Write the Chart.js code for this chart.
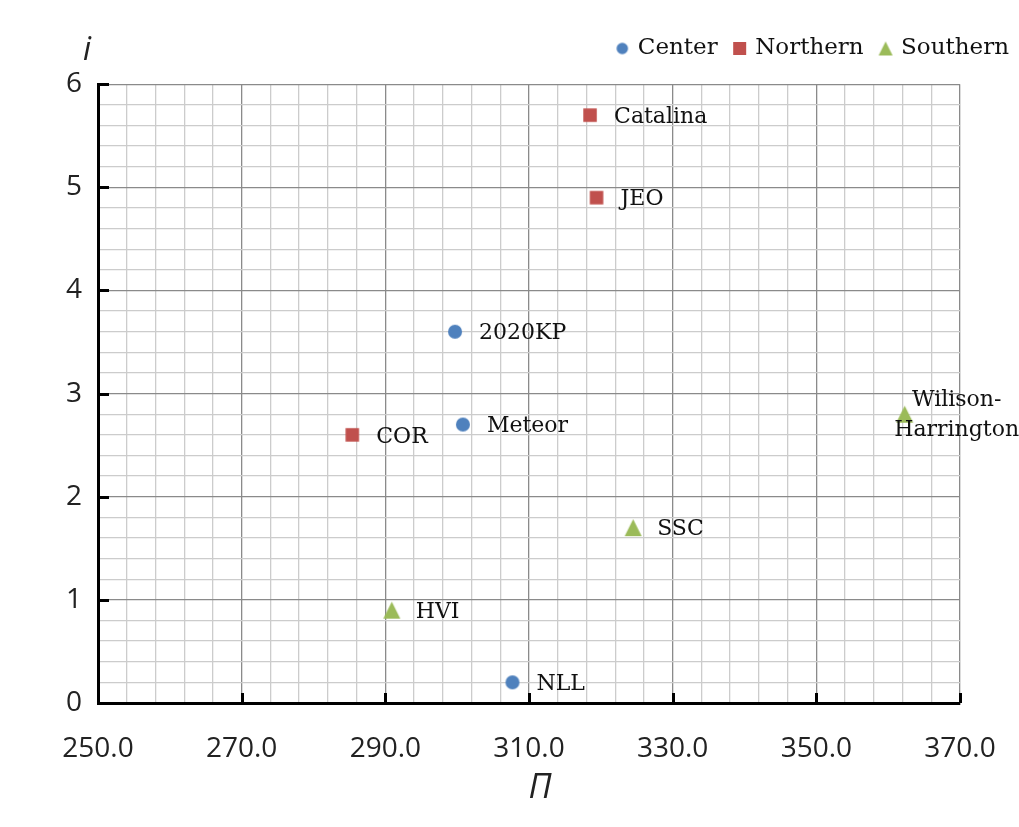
<!DOCTYPE html>
<html>
<head>
<meta charset="utf-8">
<script src="https://cdn.jsdelivr.net/npm/chart.js@4.4.1/dist/chart.umd.min.js"></script>
<style>
  html, body { margin: 0; padding: 0; background: #fff; }
  #wrap { width: 1019px; height: 827px; position: relative; }
</style>
</head>
<body>
<div id="wrap"><canvas id="c" width="1019" height="827"></canvas></div>
<script>
// ---- data ----
const seriesNames = ['Center', 'Northern', 'Southern'];
const centerNames = ['2020KP', 'Meteor', 'NLL'];
const centerX = [299.7, 300.8, 307.7];
const centerY = [3.6, 2.7, 0.2];
const northernNames = ['Catalina', 'JEO', 'COR'];
const northernX = [318.5, 319.4, 285.4];
const northernY = [5.7, 4.9, 2.6];
const southernNames = [['Wilison-', 'Harrington'], 'SSC', 'HVI'];
const southernX = [362.3, 324.5, 290.9];
const southernY = [2.8, 1.7, 0.9];
const xTickLabels = ['250.0', '270.0', '290.0', '310.0', '330.0', '350.0', '370.0'];
const yTickLabels = ['0', '1', '2', '3', '4', '5', '6'];
const xAxisTitle = 'Π';
const yAxisTitle = 'i';

// ---- style ----
const SERIF = '"DejaVu Serif", serif';
const SANS = '"Open Sans", "Noto Sans", sans-serif';
const colors = ['#4F81BD', '#C0504D', '#9BBB59'];
const styles = ['circle', 'rect', 'triangle'];

const X_MIN = 250, X_MAX = 370, X_MINOR = 4, X_MAJOR = 20;
const Y_MIN = 0, Y_MAX = 6, Y_MINOR = 0.2;

// marker images, centred on their bounding box
function makeMarker(style, color, size) {
  const c = document.createElement('canvas');
  const s = Math.ceil(size) + 2;
  c.width = s; c.height = s;
  const g = c.getContext('2d');
  const m = s / 2;
  g.fillStyle = color;
  g.beginPath();
  if (style === 'circle') { g.arc(m, m, size / 2, 0, Math.PI * 2); }
  else if (style === 'rect') { g.rect(m - size / 2, m - size / 2, size, size); }
  else { g.moveTo(m, m - size / 2); g.lineTo(m + size / 2, m + size / 2); g.lineTo(m - size / 2, m + size / 2); g.closePath(); }
  g.fill();
  return c;
}
const chartMarkerSizes = [14, 13.5, 17];
const legendMarkerSizes = [11.5, 13, 14];
const chartMarkers = styles.map((s, i) => makeMarker(s, colors[i], chartMarkerSizes[i]));
const legendMarkers = styles.map((s, i) => makeMarker(s, colors[i], legendMarkerSizes[i]));

function pts(xs, ys) { return xs.map((x, i) => ({ x: x, y: ys[i] })); }
const allNames = [centerNames, northernNames, southernNames];
const datasets = [pts(centerX, centerY), pts(northernX, northernY), pts(southernX, southernY)].map((d, i) => ({
  label: seriesNames[i],
  data: d,
  pointStyle: chartMarkers[i],
  pointRadius: 8,
  pointHoverRadius: 8,
  backgroundColor: colors[i],
  borderColor: colors[i],
  borderWidth: 0,
  showLine: false
}));

function isMajorX(v) { return Math.abs(((v - X_MIN) / X_MAJOR) - Math.round((v - X_MIN) / X_MAJOR)) < 1e-6; }
function isMajorY(v) { return Math.abs(v - Math.round(v)) < 1e-6; }

const LEFT = 98, BOTTOM = 703, RIGHT_PAD = 59;

const labelPlugin = {
  id: 'pointLabels',
  afterDatasetsDraw(chart) {
    const ctx = chart.ctx;
    ctx.save();
    ctx.fillStyle = '#111';
    ctx.font = '22px ' + SERIF;
    chart.data.datasets.forEach((ds, di) => {
      const meta = chart.getDatasetMeta(di);
      meta.data.forEach((el, i) => {
        const name = allNames[di][i];
        if (Array.isArray(name)) {
          ctx.textAlign = 'center';
          ctx.textBaseline = 'middle';
          ctx.fillText(name[0], el.x + 52, el.y - 14);
          ctx.fillText(name[1], el.x + 52, el.y + 16);
        } else {
          ctx.textAlign = 'left';
          ctx.textBaseline = 'middle';
          ctx.fillText(name, el.x + 24, el.y + 2);
        }
      });
    });
    ctx.restore();
  }
};

const axisPlugin = {
  id: 'axisExtras',
  afterDraw(chart) {
    const ctx = chart.ctx;
    const xs = chart.scales.x, ys = chart.scales.y;
    const a = chart.chartArea;
    ctx.save();
    ctx.strokeStyle = '#000';
    ctx.lineWidth = 3;
    ctx.beginPath();
    xs.ticks.forEach(t => {
      if (isMajorX(t.value) && t.value > X_MIN) {
        const p = Math.round(xs.getPixelForValue(t.value)) + 0.5;
        ctx.moveTo(p, a.bottom); ctx.lineTo(p, a.bottom - 10);
      }
    });
    ys.ticks.forEach(t => {
      if (isMajorY(t.value) && t.value > Y_MIN) {
        const p = Math.round(ys.getPixelForValue(t.value)) + 0.5;
        ctx.moveTo(a.left, p); ctx.lineTo(a.left + 11, p);
      }
    });
    ctx.stroke();
    // axis titles
    ctx.fillStyle = '#222';
    ctx.textAlign = 'center';
    ctx.textBaseline = 'middle';
    ctx.font = 'italic 32px ' + SANS;
    ctx.fillText(yAxisTitle, 87, 51);
    ctx.font = 'italic 34px ' + SANS;
    ctx.fillText(xAxisTitle, (a.left + a.right) / 2 + 11, 788);
    ctx.restore();
  }
};

new Chart(document.getElementById('c'), {
  type: 'scatter',
  data: { datasets: datasets },
  options: {
    responsive: false,
    animation: false,
    layout: { padding: { left: 0, right: -8, top: 19, bottom: 0 } },
    plugins: {
      tooltip: { enabled: false },
      subtitle: {
        display: true,
        text: '',
        position: 'top',
        weight: 500,
        font: { size: 1 },
        padding: { top: 0, bottom: 13 }
      },
      legend: {
        display: true,
        position: 'top',
        align: 'end',
        labels: {
          usePointStyle: true,
          boxWidth: 8,
          boxHeight: 9,
          padding: 18,
          color: '#111',
          font: { family: SERIF, size: 23 },
          generateLabels(chart) {
            const items = Chart.defaults.plugins.legend.labels.generateLabels(chart);
            items.forEach((it, i) => { it.pointStyle = legendMarkers[i]; });
            return items;
          }
        }
      }
    },
    scales: {
      x: {
        type: 'linear',
        min: X_MIN,
        max: X_MAX,
        afterBuildTicks(scale) {
          const t = [];
          for (let v = X_MIN; v <= X_MAX + 1e-9; v += X_MINOR) t.push({ value: v });
          scale.ticks = t;
        },
        afterFit(scale) {
          scale.height = 827 - BOTTOM;
          scale.paddingRight = RIGHT_PAD;
        },
        ticks: {
          autoSkip: false,
          maxRotation: 0,
          padding: 29,
          color: '#222',
          font: { family: SANS, size: 28 },
          callback(v) { return isMajorX(v) ? xTickLabels[Math.round((v - X_MIN) / X_MAJOR)] : ''; }
        },
        grid: {
          drawTicks: false,
          lineWidth: 1.3,
          color(c) { return isMajorX(c.tick.value) ? '#8a8a8a' : '#cccccc'; }
        },
        border: { display: true, color: '#000', width: 3 }
      },
      y: {
        type: 'linear',
        min: Y_MIN,
        max: Y_MAX,
        afterBuildTicks(scale) {
          const t = [];
          for (let k = 0; k <= Math.round((Y_MAX - Y_MIN) / Y_MINOR); k++) t.push({ value: +(Y_MIN + k * Y_MINOR).toFixed(4) });
          scale.ticks = t;
        },
        afterFit(scale) {
          scale.width = LEFT;
        },
        ticks: {
          autoSkip: false,
          padding: 16,
          color: '#222',
          font: { family: SANS, size: 28 },
          callback(v) { return isMajorY(v) ? yTickLabels[Math.round(v)] : ''; }
        },
        grid: {
          drawTicks: false,
          lineWidth: 1.3,
          color(c) { return isMajorY(c.tick.value) ? '#8a8a8a' : '#cccccc'; }
        },
        border: { display: true, color: '#000', width: 3 }
      }
    }
  },
  plugins: [labelPlugin, axisPlugin]
});
</script>
</body>
</html>
